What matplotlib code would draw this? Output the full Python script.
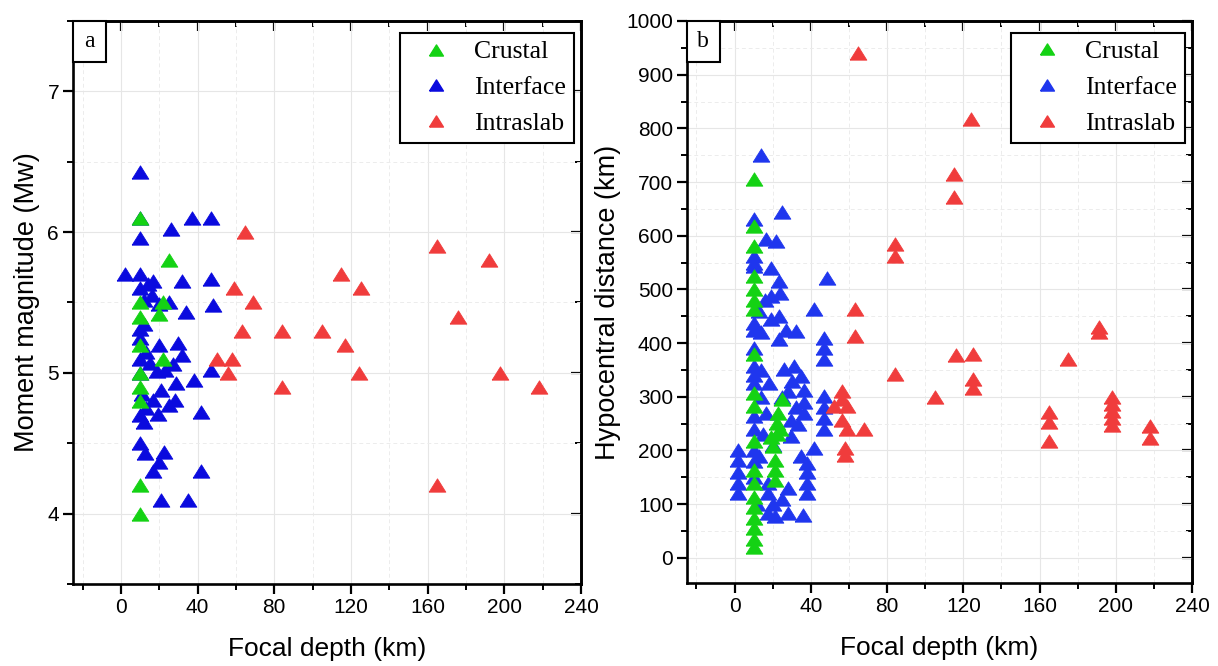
import matplotlib
matplotlib.use("Agg")
import matplotlib.pyplot as plt
from matplotlib.patches import Rectangle
from matplotlib.ticker import MultipleLocator
from matplotlib.lines import Line2D

# ---------------- data: panel a (focal depth vs Mw) ----------------
a_crustal_depth = [10, 25, 10, 22, 10, 20, 10, 22, 10, 10, 10, 10, 10]
a_crustal_mw = [6.1, 5.8, 5.5, 5.5, 5.4, 5.42, 5.2, 5.1, 5.0, 4.9, 4.8, 4.2, 4.0]

a_interface_depth = [10, 10, 37, 47, 26, 10, 2, 10, 14, 17, 32, 47, 10, 25, 20, 48, 34,
                     10, 12, 20, 30, 32, 10, 15, 27, 47, 19, 23, 29, 38, 21, 17, 28, 25,
                     42, 10, 19.5, 12, 10, 12.5, 22.5, 20, 17, 42, 21, 35, 12, 13, 11,
                     16, 13, 10, 10]
a_interface_mw = [6.43, 6.1, 6.1, 6.1, 6.02, 5.96, 5.7, 5.7, 5.63, 5.65, 5.65, 5.67, 5.6,
                  5.5, 5.49, 5.48, 5.43, 5.31, 5.35, 5.2, 5.21, 5.13, 5.1, 5.07, 5.06,
                  5.02, 5.01, 5.02, 4.93, 4.95, 4.88, 4.81, 4.81, 4.77, 4.72, 4.7, 4.71,
                  4.65, 4.5, 4.43, 4.44, 4.37, 4.3, 4.3, 4.1, 4.1, 5.52, 5.15, 4.85,
                  5.55, 4.75, 5.0, 5.25]

a_intraslab_depth = [65, 165, 192, 115, 125, 59, 69, 176, 63, 84, 105, 117, 50, 58, 56,
                     124, 198, 84, 218, 165]
a_intraslab_mw = [6.0, 5.9, 5.8, 5.7, 5.6, 5.6, 5.5, 5.4, 5.3, 5.3, 5.3, 5.2, 5.1, 5.1,
                  5.0, 5.0, 5.0, 4.9, 4.9, 4.2]

# ---------------- data: panel b (focal depth vs hypocentral distance) ----------------
b_crustal_depth = [10] * 19 + [25, 23, 22, 22, 20, 21, 21, 21, 24, 19]
b_crustal_dist = [705, 618, 581, 525, 500, 481, 463, 379, 307, 282, 217, 164, 139, 114,
                  95, 75, 55, 35, 20,
                  295, 270, 251, 230, 208, 183, 163, 145, 240, 225]

b_interface_depth = [14, 25, 10, 10, 10, 10, 10, 10, 10, 10, 10, 10, 10, 10, 10, 10, 10,
                     16.5, 21.7, 19, 23.5, 48.7, 19, 24, 41.7, 19, 23.5, 27, 32, 23.5,
                     47, 47, 47, 18, 26, 31, 35, 36.5, 36.5, 36.5, 47, 47, 47, 47, 16.5,
                     29.6, 29.6, 2, 2, 2, 2, 2, 35, 41.7, 38, 38, 38, 38, 17.4, 17.4,
                     17.4, 28, 28, 35.7, 21,
                     30, 28, 25, 14, 14, 15, 20, 13, 32, 33, 12, 20, 25, 13, 16, 14]
b_interface_dist = [750, 645, 631, 562, 550, 543, 438, 425, 391, 357, 340, 326, 264, 239,
                    201, 180, 150,
                    593, 590, 540, 515, 522, 487, 494, 463, 444, 450, 425, 422, 407,
                    410, 390, 370, 326, 351, 357, 338, 313, 290, 270, 301, 280, 260, 240,
                    270, 257, 226, 201, 183, 160, 140, 120, 189, 205, 176, 160, 140, 120,
                    139, 120, 83, 130, 83, 80, 77,
                    330, 310, 300, 300, 350, 230, 210, 190, 280, 250, 100, 100, 110, 460,
                    480, 420]

b_intraslab_depth = [65, 124, 115, 115, 84, 84, 63, 63, 191, 191, 116, 125, 175, 84, 125,
                     125, 105, 198, 198, 198, 198, 198, 165, 165, 165, 218, 218, 56.5,
                     56.5, 59, 52, 56.5, 59, 68, 58, 58]
b_intraslab_dist = [940, 817, 715, 672, 585, 563, 463, 413, 429, 420, 377, 380, 371, 343,
                    333, 317, 300, 300, 287, 273, 260, 247, 271, 253, 217, 245, 223, 310,
                    295, 282, 282, 257, 239, 239, 205, 192]

labels = ["Crustal", "Interface", "Intraslab"]
colors_a = ["#14d214", "#0a0ade", "#f03c3c"]
colors_b = ["#14d214", "#1f36ee", "#f03c3c"]

SANS = "Liberation Sans"
SERIF = "Liberation Serif"

tri = [(-1, -0.8), (1, -0.8), (0, 0.8), (-1, -0.8)]
MS = 12

fig = plt.figure(figsize=(12.18, 6.66), dpi=100)
axa = fig.add_axes([0.0599, 0.1231, 0.4171, 0.8454])
axb = fig.add_axes([0.5640, 0.1246, 0.4147, 0.8439])


def style_axis(ax, ymaj, ymin, ylim):
    ax.set_xlim(-25, 240)
    ax.set_ylim(*ylim)
    ax.xaxis.set_major_locator(MultipleLocator(40))
    ax.xaxis.set_minor_locator(MultipleLocator(20))
    ax.yaxis.set_major_locator(MultipleLocator(ymaj))
    ax.yaxis.set_minor_locator(MultipleLocator(ymin))
    ax.grid(True, which="major", color="#e6e6e6", lw=0.8)
    ax.grid(True, which="minor", color="#ececec", lw=0.7, ls=(0, (4, 3)))
    ax.set_axisbelow(True)
    for s in ax.spines.values():
        s.set_linewidth(1.9)
    ax.tick_params(which="major", direction="out", length=7, width=1.6,
                   labelsize=15, pad=3)
    ax.tick_params(which="minor", direction="out", length=4.5, width=1.4)
    for lab in ax.get_xticklabels() + ax.get_yticklabels():
        lab.set_fontfamily(SANS)
    # mirrored inward ticks on top and right
    top = ax.secondary_xaxis("top")
    top.xaxis.set_major_locator(MultipleLocator(40))
    top.xaxis.set_minor_locator(MultipleLocator(20))
    top.tick_params(which="major", direction="in", length=7, width=1.6, labeltop=False)
    top.tick_params(which="minor", direction="in", length=4.5, width=1.4)
    top.spines["top"].set_linewidth(1.9)
    right = ax.secondary_yaxis("right")
    right.yaxis.set_major_locator(MultipleLocator(ymaj))
    right.yaxis.set_minor_locator(MultipleLocator(ymin))
    right.tick_params(which="major", direction="in", length=7, width=1.6, labelright=False)
    right.tick_params(which="minor", direction="in", length=4.5, width=1.4)
    right.spines["right"].set_linewidth(1.9)


def scatter(ax, xs, ys, color, z):
    ax.plot(xs, ys, ls="none", marker=tri, ms=MS, mfc=color, mec=color, mew=0.6,
            zorder=z, clip_on=False)


def panel(ax, letter, data, colors, ymaj, ymin, ylim, ylabel, ylabx):
    style_axis(ax, ymaj, ymin, ylim)
    (cx, cy), (ix, iy), (sx, sy) = data
    scatter(ax, ix, iy, colors[1], 3)
    scatter(ax, cx, cy, colors[0], 4)
    scatter(ax, sx, sy, colors[2], 5)
    handles = [Line2D([], [], ls="none", marker=tri, ms=10, mfc=c, mec=c) for c in colors]
    leg = ax.legend(handles, labels, loc="upper right", bbox_to_anchor=(0.986, 0.979),
                    borderaxespad=0, fancybox=False, edgecolor="black", framealpha=1,
                    prop={"family": SERIF, "size": 18.5}, handlelength=2.2,
                    handletextpad=0.4, borderpad=0.3, labelspacing=0.5)
    leg.get_frame().set_linewidth(1.5)
    leg.set_zorder(10)
    ax.set_xlabel("Focal depth (km)", fontsize=19, fontfamily=SANS)
    ax.xaxis.set_label_coords(0.5, -0.094)
    ax.set_ylabel(ylabel, fontsize=19.5, fontfamily=SANS)
    ax.yaxis.set_label_coords(ylabx, 0.5)
    w, h = 33 / 508, 41 / 563
    ax.add_patch(Rectangle((0, 1 - h), w, h, transform=ax.transAxes, fill=True,
                           facecolor="white", edgecolor="black", lw=1.5, zorder=11,
                           clip_on=False))
    ax.text(w / 2, 1 - h / 2, letter, transform=ax.transAxes, ha="center",
            va="center", fontsize=17, fontfamily=SERIF, zorder=12)


panel(axa, "a",
      ((a_crustal_depth, a_crustal_mw), (a_interface_depth, a_interface_mw),
       (a_intraslab_depth, a_intraslab_mw)), colors_a,
      1, 0.5, (3.5, 7.5), "Moment magnitude (Mw)", -0.065)
panel(axb, "b",
      ((b_crustal_depth, b_crustal_dist), (b_interface_depth, b_interface_dist),
       (b_intraslab_depth, b_intraslab_dist)), colors_b,
      100, 50, (-47, 1000), "Hypocentral distance (km)", -0.131)

fig.savefig("out.png", dpi=100)
